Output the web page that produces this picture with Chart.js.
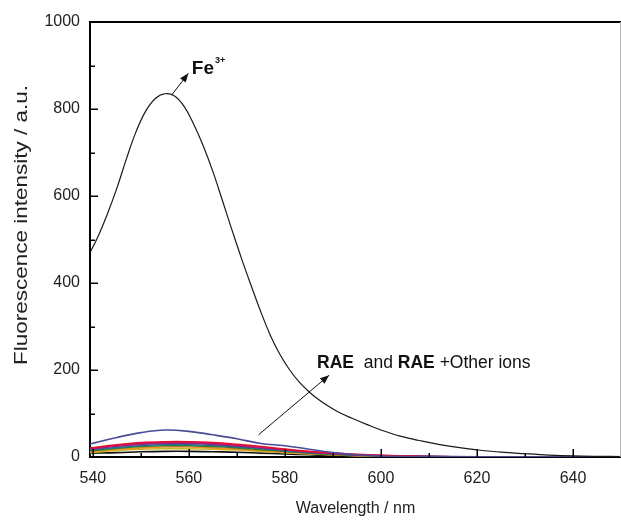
<!DOCTYPE html>
<html>
<head>
<meta charset="utf-8">
<script src="https://cdn.jsdelivr.net/npm/chart.js@4"></script>
<style>
  html, body { margin: 0; padding: 0; background: #fff; }
  #wrap { position: relative; width: 621px; height: 520px; }
</style>
</head>
<body>
<div id="wrap"><canvas id="chart" width="621" height="520"></canvas></div>
<script>
// Emission spectrum of RAE with Fe3+ (nm, a.u.)
const feWavelength = [539.4, 541, 543, 545, 547, 549, 551, 553, 555, 557, 559, 561, 563, 565, 567, 569, 571, 573, 575, 577, 579, 581, 583, 585, 587, 589, 591, 594, 597, 600, 604, 608, 612, 616, 620, 625, 630, 635, 640, 645, 650];
const feIntensity  = [470, 505, 558, 618, 686, 748, 795, 824, 835, 830, 806, 765, 715, 656, 589, 521, 455, 393, 333, 279, 235, 200, 172, 150, 132, 117, 104, 89, 75, 62, 48, 38, 29, 22, 16.5, 11, 7.5, 4.5, 2.5, 1.5, 1];

// RAE alone and RAE with the other metal ions
const ionWavelength = [539.4, 545, 550, 555, 560, 565, 570, 575, 580, 585, 590, 595, 600, 605, 610, 620, 630, 640, 650];
const raeAlone  = [30, 45, 56, 62, 59, 51, 42, 31, 26, 18, 10, 5, 2, 1, 1, 0.5, 0.3, 0.2, 0];
const ionRed    = [21, 28, 33, 35, 35, 33, 29, 24, 18, 13, 9, 6, 4, 2, 1, 0.5, 0.3, 0, 0];
const ionPink   = [19, 27, 31, 33, 33, 31, 27, 22, 17, 12, 8, 5, 4, 2, 1, 0.5, 0.3, 0, 0];
const ionPurple = [18, 25, 29, 31, 31, 29, 25, 21, 16, 11, 8, 5, 3, 2, 1, 0.5, 0.3, 0, 0];
const ionTeal   = [16, 22, 26, 28, 28, 26, 23, 19, 14, 10, 7, 4, 3, 2, 1, 0.5, 0.3, 0, 0];
const ionGreen  = [14, 20, 24, 26, 26, 24, 21, 17, 13, 9, 6, 4, 3, 2, 1, 0.5, 0.3, 0, 0];
const ionOrange = [12, 18, 21, 23, 23, 21, 18, 15, 11, 8, 5, 3, 2, 1.5, 1, 0.5, 0.3, 0, 0];
const ionOlive  = [10, 15, 18, 19, 19, 18, 16, 13, 10, 7, 5, 3, 2, 1, 0.5, 0.3, 0.2, 0, 0];
const ionBlack  = [9, 10, 12, 13, 13, 12, 11, 9, 7, 5, 3, 2, 1, 1, 0.5, 0.3, 0.2, 0, 0];

// Axis ticks
const xMajorTicks = [540, 560, 580, 600, 620, 640];
const xMinorTicks = [550, 570, 590, 610, 630, 650];
const yMajorTicks = [0, 200, 400, 600, 800, 1000];
const yMinorTicks = [100, 300, 500, 700, 900];

const toPoints = (xs, ys) => xs.map((v, i) => ({ x: v, y: ys[i] }));

const ionSeries = [
  { label: 'RAE',          values: raeAlone,  color: '#4a4a98' },
  { label: 'RAE + ion 1',  values: ionRed,    color: '#e01030' },
  { label: 'RAE + ion 2',  values: ionPink,   color: '#c0187a' },
  { label: 'RAE + ion 3',  values: ionPurple, color: '#6a2c91' },
  { label: 'RAE + ion 4',  values: ionTeal,   color: '#1f7a80' },
  { label: 'RAE + ion 5',  values: ionGreen,  color: '#2e7d32' },
  { label: 'RAE + ion 6',  values: ionOrange, color: '#f08a24' },
  { label: 'RAE + ion 7',  values: ionOlive,  color: '#c8b820' },
  { label: 'RAE + ion 8',  values: ionBlack,  color: '#111111' }
];

const datasets = [
  {
    label: 'RAE + Fe³⁺',
    data: toPoints(feWavelength, feIntensity),
    borderColor: '#1a1a1a',
    borderWidth: 1.2
  }
].concat(ionSeries.map(s => ({
  label: s.label,
  data: toPoints(ionWavelength, s.values),
  borderColor: s.color,
  borderWidth: 1.6
})));

const FONT = "'Liberation Sans', Arial, Helvetica, sans-serif";

// Callout arrows and their labels, anchored in data units
const notes = {
  fe:  { from: [556.4, 832], to: [559.9, 882], text: [560.6, 893] },
  rae: { from: [574.5, 51],  to: [589.2, 188], text: [586.7, 216] }
};

function arrow(ctx, x0, y0, x1, y1) {
  ctx.beginPath();
  ctx.moveTo(x0, y0);
  ctx.lineTo(x1, y1);
  ctx.stroke();
  const ang = Math.atan2(y1 - y0, x1 - x0);
  const L = 9, W = 3.5;
  ctx.beginPath();
  ctx.moveTo(x1, y1);
  ctx.lineTo(x1 - L * Math.cos(ang) + W * Math.sin(ang), y1 - L * Math.sin(ang) - W * Math.cos(ang));
  ctx.lineTo(x1 - L * Math.cos(ang) - W * Math.sin(ang), y1 - L * Math.sin(ang) + W * Math.cos(ang));
  ctx.closePath();
  ctx.fill();
}

const decorations = {
  id: 'decorations',
  afterDraw(chart) {
    const { ctx, chartArea: a, scales: { x, y } } = chart;
    ctx.save();

    // frame: heavy top edge, light right edge
    ctx.strokeStyle = '#000';
    ctx.lineWidth = 2;
    ctx.beginPath();
    ctx.moveTo(a.left, a.top);
    ctx.lineTo(a.right, a.top);
    ctx.stroke();
    ctx.strokeStyle = '#b8b8b8';
    ctx.lineWidth = 1;
    ctx.beginPath();
    ctx.moveTo(a.right - 0.5, a.top);
    ctx.lineTo(a.right - 0.5, a.bottom);
    ctx.stroke();

    // inward tick marks
    ctx.strokeStyle = '#000';
    ctx.lineWidth = 1.5;
    const xTick = (v, len) => {
      const px = Math.round(x.getPixelForValue(v)) + 0.25;
      if (px < a.left || px > a.right) return;
      ctx.beginPath(); ctx.moveTo(px, a.bottom); ctx.lineTo(px, a.bottom - len); ctx.stroke();
    };
    const yTick = (v, len) => {
      const py = Math.round(y.getPixelForValue(v)) + 0.25;
      ctx.beginPath(); ctx.moveTo(a.left, py); ctx.lineTo(a.left + len, py); ctx.stroke();
    };
    xMajorTicks.forEach(v => xTick(v, 8));
    xMinorTicks.forEach(v => xTick(v, 4));
    yMajorTicks.forEach(v => yTick(v, 8));
    yMinorTicks.forEach(v => yTick(v, 5));

    // y-axis title in a wide setting, reading upward
    ctx.save();
    ctx.translate(22, 225);
    ctx.rotate(-Math.PI / 2);
    ctx.scale(1.25, 1);
    ctx.font = `18px ${FONT}`;
    ctx.fillStyle = '#222';
    ctx.textAlign = 'center';
    ctx.textBaseline = 'middle';
    ctx.fillText('Fluorescence intensity / a.u.', 0, 0);
    ctx.restore();

    // Fe3+ callout
    ctx.strokeStyle = '#111';
    ctx.fillStyle = '#111';
    ctx.lineWidth = 1;
    const P = p => [x.getPixelForValue(p[0]), y.getPixelForValue(p[1])];
    let f = P(notes.fe.from), t = P(notes.fe.to), tx = P(notes.fe.text);
    arrow(ctx, f[0], f[1], t[0], t[1]);
    ctx.textBaseline = 'middle';
    ctx.textAlign = 'left';
    ctx.font = `bold 19px ${FONT}`;
    ctx.fillText('Fe', tx[0], tx[1]);
    const feW = ctx.measureText('Fe').width;
    ctx.font = `bold 9px ${FONT}`;
    ctx.fillText('3+', tx[0] + feW + 1, tx[1] - 8);

    // RAE callout
    f = P(notes.rae.from); t = P(notes.rae.to); tx = P(notes.rae.text);
    arrow(ctx, f[0], f[1], t[0], t[1]);
    const parts = [
      ['bold', 'RAE'], ['normal', '  and '], ['bold', 'RAE'], ['normal', ' +Other ions']
    ];
    let cx = tx[0];
    parts.forEach(([w, s]) => {
      ctx.font = `${w} 17.5px ${FONT}`;
      ctx.fillText(s, cx, tx[1]);
      cx += ctx.measureText(s).width;
    });

    ctx.restore();
  }
};

new Chart(document.getElementById('chart'), {
  type: 'line',
  data: { datasets },
  options: {
    responsive: false,
    animation: false,
    events: [],
    layout: { padding: { top: 22, right: 0, bottom: 0, left: 0 } },
    elements: {
      point: { radius: 0 },
      line: { tension: 0.4, fill: false }
    },
    plugins: { legend: { display: false }, tooltip: { enabled: false } },
    scales: {
      x: {
        type: 'linear',
        min: 539.4,
        max: 650,
        grid: { display: false, drawTicks: false },
        border: { display: true, color: '#000', width: 2 },
        afterBuildTicks: s => { s.ticks = xMajorTicks.map(v => ({ value: v })); },
        afterFit: s => { s.height = 63; },
        ticks: { padding: 12, color: '#222', font: { family: FONT, size: 16 }, maxRotation: 0, callback: v => String(v) },
        title: {
          display: true, text: 'Wavelength / nm', color: '#222',
          font: { family: FONT, size: 16 }, padding: { top: 0, bottom: 2 }
        }
      },
      y: {
        min: 0,
        max: 1000,
        grid: { display: false, drawTicks: false },
        border: { display: true, color: '#000', width: 2 },
        afterBuildTicks: s => { s.ticks = yMajorTicks.map(v => ({ value: v })); },
        afterFit: s => { s.width = 90; },
        ticks: { padding: 10, color: '#222', font: { family: FONT, size: 16 }, callback: v => String(v) },
        title: { display: false }
      }
    }
  },
  plugins: [decorations]
});
</script>
</body>
</html>
